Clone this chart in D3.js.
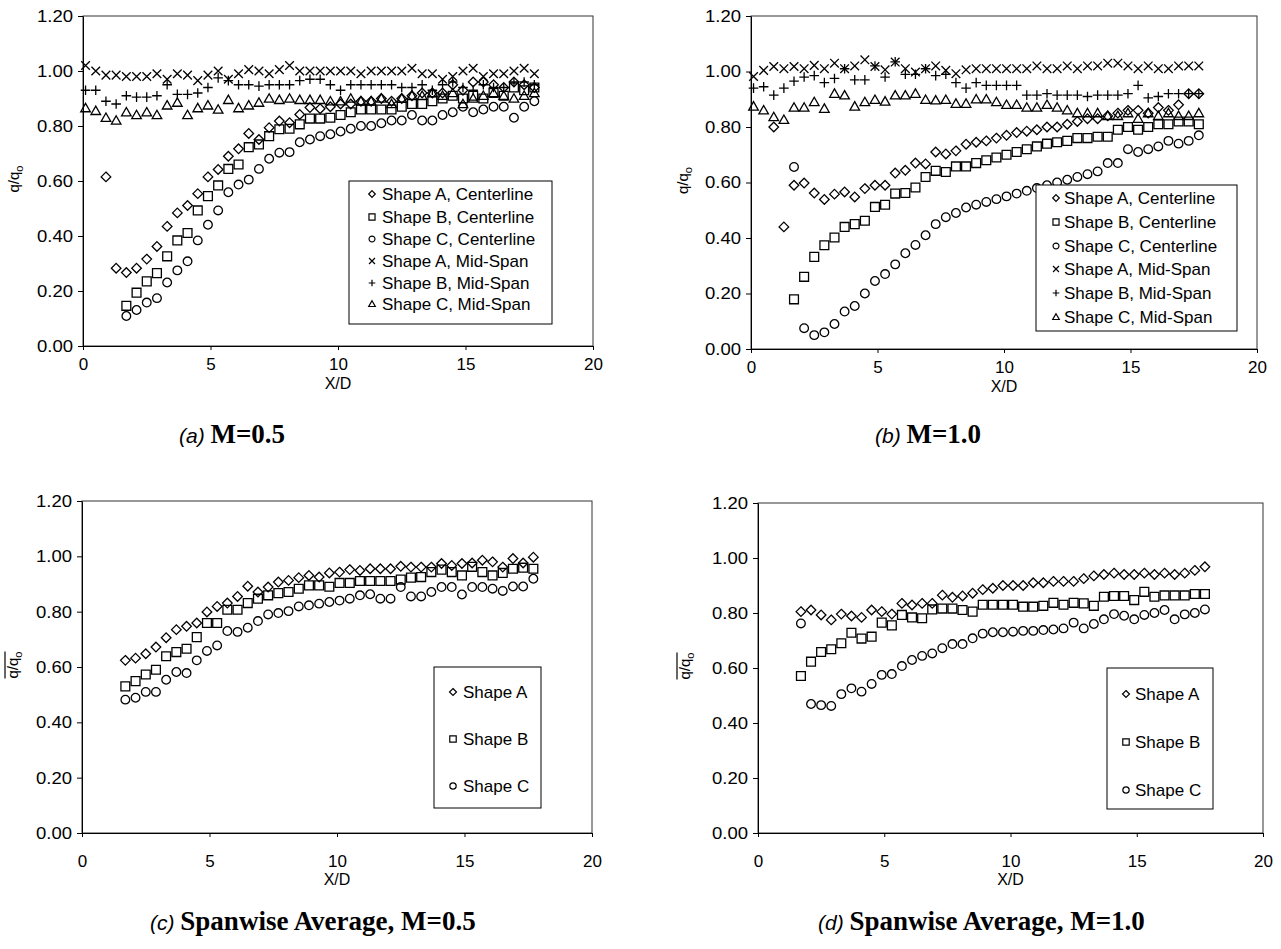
<!DOCTYPE html>
<html>
<head>
<meta charset="utf-8">
<script src="https://cdn.jsdelivr.net/npm/d3@7"></script>
<style>
body { margin: 0; background: #fff; }
svg text { font-family: "Liberation Sans", Arial, sans-serif; fill: #000; }
</style>
</head>
<body>
<svg id="fig" width="1281" height="949"></svg>
<script>
// X/D stations shared by every series
var xGrid = [0.1,0.5,0.9,1.3,1.7,2.1,2.5,2.9,3.3,3.7,4.1,4.5,4.9,5.3,5.7,6.1,6.5,6.9,7.3,7.7,8.1,8.5,8.9,
             9.3,9.7,10.1,10.5,10.9,11.3,11.7,12.1,12.5,12.9,13.3,13.7,14.1,14.5,14.9,15.3,15.7,16.1,16.5,16.9,17.3,17.7];
var xTicks = [0, 5, 10, 15, 20];
var yTicks = [0, 0.2, 0.4, 0.6, 0.8, 1.0, 1.2];

// (a) M=0.5, centerline and mid-span q/qo
var aCenA = [null,null,0.615,0.283,0.267,0.283,0.316,0.362,0.435,0.484,0.511,0.554,0.615,0.642,0.690,0.717,0.773,0.751,0.794,0.818,0.812,0.842,0.867,0.863,
             0.87,0.88,0.88,0.89,0.89,0.90,0.89,0.90,0.91,0.92,0.92,0.92,0.95,0.93,0.96,0.96,0.95,0.94,0.96,0.95,0.94];
var aCenB = [null,null,null,null,0.146,0.194,0.235,0.265,0.326,0.384,0.411,0.493,0.545,0.584,0.644,0.660,0.723,0.733,0.763,0.788,0.790,0.806,0.827,0.827,
             0.83,0.84,0.85,0.86,0.86,0.86,0.86,0.87,0.88,0.88,0.89,0.90,0.91,0.90,0.91,0.90,0.92,0.91,0.94,0.93,0.94];
var aCenC = [null,null,null,null,0.109,0.131,0.158,0.174,0.231,0.275,0.308,0.384,0.441,0.493,0.559,0.587,0.605,0.644,0.681,0.703,0.705,0.741,0.751,0.763,
             0.77,0.78,0.79,0.80,0.80,0.81,0.82,0.82,0.84,0.82,0.82,0.84,0.85,0.87,0.85,0.86,0.87,0.87,0.83,0.87,0.89];
var aMidA = [1.02,1.00,0.985,0.985,0.98,0.98,0.98,0.99,0.97,0.99,0.985,0.965,0.985,1.00,0.97,0.99,1.005,1.00,0.99,1.005,1.02,1.00,1.00,1.00,
             1.00,1.00,1.00,0.99,1.00,1.00,1.00,1.00,1.01,0.99,0.99,0.97,0.98,1.00,1.01,0.98,0.99,0.99,1.00,1.01,0.99];
var aMidB = [0.93,0.93,0.89,0.88,0.91,0.905,0.905,0.91,0.95,0.915,0.915,0.92,0.94,0.975,0.965,0.95,0.95,0.945,0.95,0.95,0.95,0.965,0.97,0.97,
             0.95,0.93,0.95,0.95,0.95,0.95,0.95,0.94,0.94,0.95,0.93,0.95,0.96,0.94,0.93,0.95,0.94,0.94,0.96,0.96,0.95];
var aMidC = [0.865,0.855,0.83,0.82,0.85,0.84,0.85,0.84,0.875,0.885,0.84,0.865,0.875,0.86,0.895,0.865,0.875,0.885,0.90,0.895,0.90,0.895,0.895,0.895,
             0.89,0.89,0.90,0.89,0.89,0.90,0.88,0.90,0.91,0.91,0.92,0.91,0.92,0.88,0.90,0.91,0.92,0.91,0.90,0.91,0.92];

// (b) M=1.0
var bCenA = [null,null,0.80,0.44,0.59,0.598,0.562,0.539,0.558,0.566,0.548,0.578,0.59,0.59,0.634,0.644,0.670,0.667,0.710,0.703,0.714,0.738,
             0.745,0.75,0.76,0.77,0.78,0.785,0.79,0.80,0.80,0.81,0.82,0.83,0.83,0.84,0.85,0.86,0.86,0.85,0.87,0.86,0.88,0.92,0.92];
var bCenB = [null,null,null,null,0.179,0.26,0.332,0.374,0.402,0.44,0.45,0.462,0.512,0.52,0.56,0.562,0.582,0.62,0.642,0.638,0.658,0.658,
             0.67,0.68,0.69,0.70,0.71,0.72,0.73,0.74,0.745,0.75,0.76,0.76,0.765,0.765,0.79,0.80,0.79,0.80,0.81,0.81,0.82,0.82,0.81];
var bCenC = [null,null,null,null,0.656,0.075,0.05,0.06,0.09,0.135,0.155,0.20,0.245,0.27,0.305,0.345,0.375,0.41,0.45,0.475,0.49,0.51,
             0.52,0.53,0.54,0.55,0.56,0.57,0.58,0.59,0.60,0.61,0.62,0.63,0.64,0.67,0.67,0.72,0.71,0.72,0.73,0.75,0.74,0.75,0.77];
var bMidA = [0.982,1.004,1.018,1.01,1.018,1.01,1.022,1.01,1.03,1.01,1.02,1.042,1.018,1.006,1.034,1.01,0.998,1.01,1.02,1.004,0.992,1.006,
             1.01,1.01,1.01,1.01,1.01,1.01,1.02,1.01,1.01,1.02,1.01,1.02,1.02,1.03,1.03,1.02,1.01,1.02,1.01,1.01,1.02,1.02,1.02];
var bMidB = [0.94,0.945,0.915,0.94,0.965,0.98,0.985,0.96,0.975,1.01,0.97,0.97,1.02,0.98,1.035,0.99,0.99,1.01,0.985,0.99,0.96,0.94,
             0.96,0.95,0.95,0.95,0.95,0.915,0.915,0.92,0.915,0.915,0.915,0.91,0.915,0.915,0.915,0.92,0.95,0.905,0.91,0.92,0.92,0.92,0.92];
var bMidC = [0.874,0.86,0.836,0.826,0.87,0.87,0.89,0.866,0.92,0.914,0.874,0.89,0.898,0.892,0.914,0.914,0.92,0.898,0.896,0.898,0.884,0.884,
             0.90,0.90,0.89,0.88,0.88,0.87,0.87,0.88,0.87,0.86,0.85,0.85,0.85,0.84,0.84,0.85,0.83,0.85,0.84,0.85,0.84,0.84,0.85];

// (c) spanwise average, M=0.5
var cA = [null,null,null,null,0.624,0.632,0.648,0.672,0.706,0.735,0.747,0.759,0.799,0.819,0.831,0.855,0.892,0.871,0.889,0.907,0.913,0.923,0.931,0.925,
          0.940,0.943,0.952,0.949,0.955,0.955,0.955,0.964,0.961,0.961,0.961,0.974,0.967,0.974,0.976,0.986,0.980,0.961,0.992,0.976,0.997];
var cB = [null,null,null,null,0.530,0.549,0.573,0.590,0.639,0.654,0.666,0.708,0.759,0.759,0.807,0.807,0.831,0.847,0.859,0.867,0.871,0.883,0.895,0.895,
          0.89,0.904,0.904,0.911,0.911,0.911,0.911,0.916,0.923,0.925,0.943,0.952,0.943,0.931,0.962,0.943,0.931,0.940,0.955,0.959,0.955];
var cC = [null,null,null,null,0.482,0.489,0.510,0.510,0.554,0.582,0.578,0.624,0.658,0.678,0.730,0.727,0.742,0.766,0.790,0.795,0.802,0.819,0.823,0.829,
          0.835,0.84,0.847,0.859,0.863,0.847,0.847,0.889,0.855,0.855,0.871,0.889,0.889,0.862,0.889,0.889,0.883,0.875,0.891,0.891,0.919];

// (d) spanwise average, M=1.0
var dA = [null,null,null,null,0.805,0.811,0.793,0.775,0.796,0.789,0.784,0.811,0.805,0.796,0.835,0.829,0.835,0.835,0.865,0.857,0.862,
          0.872,0.885,0.89,0.90,0.90,0.90,0.91,0.91,0.915,0.915,0.915,0.925,0.935,0.94,0.945,0.94,0.94,0.945,0.94,0.945,0.94,0.945,0.955,0.968];
var dB = [null,null,null,null,0.571,0.623,0.658,0.668,0.690,0.728,0.707,0.714,0.765,0.755,0.793,0.784,0.781,0.813,0.816,0.816,0.811,
          0.805,0.83,0.83,0.83,0.83,0.823,0.823,0.826,0.837,0.83,0.837,0.835,0.826,0.859,0.862,0.862,0.847,0.877,0.859,0.864,0.864,0.864,0.869,0.869];
var dC = [null,null,null,null,0.762,0.469,0.465,0.462,0.505,0.526,0.514,0.542,0.575,0.578,0.607,0.629,0.644,0.653,0.672,0.687,0.687,
          0.708,0.725,0.73,0.73,0.732,0.735,0.735,0.738,0.74,0.744,0.765,0.744,0.76,0.777,0.796,0.79,0.777,0.793,0.80,0.811,0.777,0.795,0.80,0.813];

var fullNames = ["Shape A, Centerline", "Shape B, Centerline", "Shape C, Centerline",
                 "Shape A, Mid-Span", "Shape B, Mid-Span", "Shape C, Mid-Span"];
var avgNames = ["Shape A", "Shape B", "Shape C"];

var svg = d3.select("#fig");

// hollow marker outlines, drawn around 0,0
function markerPath(type, s) {
  if (type == "diamond") return "M0," + (-s) + "L" + s + ",0L0," + s + "L" + (-s) + ",0Z";
  if (type == "square") { var h = s * 0.92; return "M" + (-h) + "," + (-h) + "H" + h + "V" + h + "H" + (-h) + "Z"; }
  if (type == "circle") { var r = s * 0.9; return "M" + r + ",0A" + r + "," + r + " 0 1,1 " + (-r) + ",0A" + r + "," + r + " 0 1,1 " + r + ",0Z"; }
  if (type == "cross") { var c = s * 0.9; return "M" + (-c) + "," + (-c) + "L" + c + "," + c + "M" + c + "," + (-c) + "L" + (-c) + "," + c; }
  if (type == "plus") return "M" + (-s) + ",0H" + s + "M0," + (-s) + "V" + s;
  if (type == "triangle") return "M0," + (-s) + "L" + s + "," + (s * 0.75) + "H" + (-s) + "Z";
}

var panels = [
  { left: 83, right: 593, top: 16, bottom: 346, tickY: 370, titleY: 389, bar: false,
    labelX: 19, tag: "(a)", title: "M=0.5", capX: 179, capY: 443,
    series: [[aCenA, "diamond"], [aCenB, "square"], [aCenC, "circle"], [aMidA, "cross"], [aMidB, "plus"], [aMidC, "triangle"]],
    legend: { x: 349, y: 181, w: 203, h: 143, rows: [194, 217, 239, 261, 283, 304], mx: 372, tx: 382, names: fullNames, ms: 3.3 } },
  { left: 751, right: 1257, top: 16, bottom: 349, tickY: 373, titleY: 392, bar: false,
    labelX: 688, tag: "(b)", title: "M=1.0", capX: 875, capY: 443,
    series: [[bCenA, "diamond"], [bCenB, "square"], [bCenC, "circle"], [bMidA, "cross"], [bMidB, "plus"], [bMidC, "triangle"]],
    legend: { x: 1036, y: 185, w: 201, h: 146, rows: [198, 222, 246, 269, 293, 317], mx: 1056, tx: 1064, names: fullNames, ms: 3.3 } },
  { left: 82, right: 592, top: 501, bottom: 833, tickY: 867, titleY: 885, bar: true,
    labelX: 18, tag: "(c)", title: "Spanwise Average, M=0.5", capX: 150, capY: 930,
    series: [[cA, "diamond"], [cB, "square"], [cC, "circle"]],
    legend: { x: 434, y: 667, w: 107, h: 141, rows: [692, 739, 786], mx: 453, tx: 463, names: avgNames, ms: 3.5 } },
  { left: 758, right: 1263, top: 503, bottom: 833, tickY: 867, titleY: 885, bar: true,
    labelX: 690, tag: "(d)", title: "Spanwise Average, M=1.0", capX: 818, capY: 930,
    series: [[dA, "diamond"], [dB, "square"], [dC, "circle"]],
    legend: { x: 1107, y: 668, w: 106, h: 141, rows: [694, 742, 790], mx: 1126, tx: 1135, names: avgNames, ms: 3.5 } }
];

panels.forEach(function(p) {
  var x = d3.scaleLinear().domain([0, 20]).range([p.left, p.right]);
  var y = d3.scaleLinear().domain([0, 1.2]).range([p.bottom, p.top]);
  var g = svg.append("g");

  // plot area frame
  g.append("rect")
    .attr("x", p.left).attr("y", p.top)
    .attr("width", p.right - p.left).attr("height", p.bottom - p.top)
    .attr("fill", "none").attr("stroke", "#333").attr("stroke-width", 1);

  // y axis
  var ya = g.append("g")
    .attr("transform", "translate(" + p.left + ",0)")
    .call(d3.axisLeft(y).tickValues(yTicks).tickFormat(d3.format(".2f")).tickSize(5).tickSizeOuter(0));
  ya.selectAll("text").attr("font-size", 17).attr("font-family", "Liberation Sans, Arial, sans-serif")
    .attr("x", -10).attr("textLength", 36).attr("lengthAdjust", "spacingAndGlyphs");

  // x axis
  var xa = g.append("g")
    .attr("transform", "translate(0," + p.bottom + ")")
    .call(d3.axisBottom(x).tickValues(xTicks).tickSize(4).tickSizeOuter(0));
  xa.selectAll("text").attr("font-size", 17).attr("font-family", "Liberation Sans, Arial, sans-serif")
    .attr("dy", null).attr("y", p.tickY - p.bottom);
  g.selectAll(".domain").attr("stroke", "#000");
  g.selectAll(".tick line").attr("stroke", "#000");

  g.append("text")
    .attr("x", (p.left + p.right) / 2).attr("y", p.titleY)
    .attr("text-anchor", "middle").attr("font-size", 16)
    .text("X/D");

  // y axis title q/qo (with bar for the spanwise averages)
  var yl = g.append("g").attr("transform", "translate(" + p.labelX + "," + ((p.top + p.bottom) / 2 - 2) + ") rotate(-90)");
  var yt = yl.append("text").attr("text-anchor", "middle").attr("font-size", 15);
  yt.append("tspan").text("q/q");
  yt.append("tspan").attr("font-size", 11).attr("dy", 4).text("o");
  if (p.bar) {
    var bb = yt.node().getBBox();
    yl.append("line")
      .attr("x1", bb.x).attr("x2", bb.x + bb.width)
      .attr("y1", bb.y + 1).attr("y2", bb.y + 1)
      .attr("stroke", "#000").attr("stroke-width", 1.2);
  }

  // data markers
  p.series.forEach(function(s) {
    var pts = xGrid.map(function(xv, i) { return { x: xv, v: s[0][i] }; })
                   .filter(function(d) { return d.v != null; });
    g.append("g").selectAll("path")
      .data(pts)
      .enter()
      .append("path")
      .attr("transform", function(d) { return "translate(" + x(d.x) + "," + y(d.v) + ")"; })
      .attr("d", markerPath(s[1], 4.8))
      .attr("fill", "none")
      .attr("stroke", "#000")
      .attr("stroke-width", 1.3);
  });

  // legend
  var L = p.legend;
  var lg = g.append("g");
  lg.append("rect")
    .attr("x", L.x).attr("y", L.y).attr("width", L.w).attr("height", L.h)
    .attr("fill", "#fff").attr("stroke", "#000").attr("stroke-width", 1);
  L.rows.forEach(function(ry, i) {
    lg.append("path")
      .attr("transform", "translate(" + L.mx + "," + ry + ")")
      .attr("d", markerPath(p.series[i][1], L.ms))
      .attr("fill", "none").attr("stroke", "#000").attr("stroke-width", 1.2);
    lg.append("text")
      .attr("x", L.tx).attr("y", ry + 6)
      .attr("font-size", 17)
      .text(L.names[i]);
  });

  // caption under the panel
  var cap = svg.append("text").attr("x", p.capX).attr("y", p.capY);
  cap.append("tspan").attr("font-style", "italic").attr("font-size", 21).text(p.tag + " ");
  cap.append("tspan")
    .attr("font-family", "Liberation Serif, Times New Roman, serif")
    .attr("font-weight", "bold").attr("font-size", 27)
    .text(p.title);
});
</script>
</body>
</html>
